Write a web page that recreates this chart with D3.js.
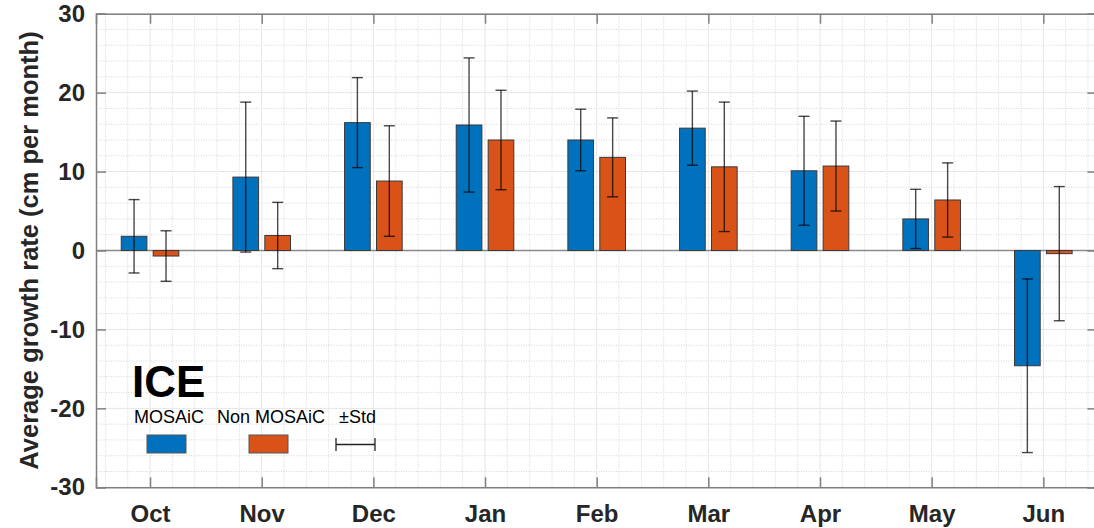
<!DOCTYPE html>
<html>
<head>
<meta charset="utf-8">
<script src="https://cdn.jsdelivr.net/npm/d3@7"></script>
<style>
  html, body { margin: 0; padding: 0; background: #fff; }
  svg { display: block; font-family: "Liberation Sans", Arial, sans-serif; }
</style>
</head>
<body>
<svg id="chart" width="1094" height="528"></svg>
<script>
// Monthly average ice growth rate, MOSAiC vs non-MOSAiC, with ±1 std
const months = ["Oct", "Nov", "Dec", "Jan", "Feb", "Mar", "Apr", "May", "Jun"];
const mosaicMean = [1.8, 9.3, 16.2, 15.9, 14.0, 15.5, 10.1, 4.0, -14.6];
const mosaicStd  = [4.65, 9.5, 5.7, 8.5, 3.9, 4.7, 6.9, 3.75, 11.0];
const nonMosaicMean = [-0.7, 1.9, 8.8, 14.0, 11.8, 10.6, 10.7, 6.4, -0.4];
const nonMosaicStd  = [3.2, 4.2, 7.0, 6.3, 5.0, 8.2, 5.7, 4.7, 8.5];
const yTicks = [-30, -20, -10, 0, 10, 20, 30];
const seriesNames = ["MOSAiC", "Non MOSAiC"];
const seriesColors = ["#0072BD", "#D95319"];

const svg = d3.select("#chart");
const plotLeft = 96, plotTop = 13.7, plotBottom = 487.3;
const unit = 111.66;

const x = d3.scaleLinear().domain([0.516, 9.484]).range([plotLeft, plotLeft + 8.968 * unit]);
const y = d3.scaleLinear().domain([-30, 30]).range([plotBottom, plotTop]);
const plotRight = x.range()[1];

const axisColor = "#808080";
const textColor = "#262626";

// grid: minor dotted, major light solid
const g = svg.append("g");
const minorX = d3.range(0.6, 9.5, 0.2).filter(v => Math.abs(v - Math.round(v)) > 1e-6);
const minorY = d3.range(-28, 30, 2).filter(v => v % 10 !== 0);
g.selectAll(".mx").data(minorX).join("line")
  .attr("x1", d => x(d)).attr("x2", d => x(d)).attr("y1", plotTop).attr("y2", plotBottom)
  .attr("stroke", "#d6d6d6").attr("stroke-width", 1).attr("stroke-dasharray", "1,1.5");
g.selectAll(".my").data(minorY).join("line")
  .attr("x1", plotLeft).attr("x2", plotRight).attr("y1", d => y(d)).attr("y2", d => y(d))
  .attr("stroke", "#d6d6d6").attr("stroke-width", 1).attr("stroke-dasharray", "1,1.5");
g.selectAll(".Mx").data(d3.range(1, 10)).join("line")
  .attr("x1", d => x(d)).attr("x2", d => x(d)).attr("y1", plotTop).attr("y2", plotBottom)
  .attr("stroke", "#e6e6e6").attr("stroke-width", 1);
g.selectAll(".My").data(yTicks).join("line")
  .attr("x1", plotLeft).attr("x2", plotRight).attr("y1", d => y(d)).attr("y2", d => y(d))
  .attr("stroke", "#e6e6e6").attr("stroke-width", 1);

// bars
const barW = 0.23 * unit;
const offsets = [-0.143, 0.143];
const seriesMeans = [mosaicMean, nonMosaicMean];
const seriesStds = [mosaicStd, nonMosaicStd];

// baseline
svg.append("line")
  .attr("x1", plotLeft).attr("x2", plotRight).attr("y1", y(0)).attr("y2", y(0))
  .attr("stroke", "#8a8a8a").attr("stroke-width", 1.5);

seriesMeans.forEach((vals, s) => {
  svg.append("g").selectAll("rect").data(vals).join("rect")
    .attr("x", (d, i) => x(i + 1 + offsets[s]) - barW / 2)
    .attr("width", barW)
    .attr("y", d => y(Math.max(0, d)))
    .attr("height", d => Math.abs(y(d) - y(0)))
    .attr("fill", seriesColors[s])
    .attr("stroke", "#3a3a3a").attr("stroke-width", 1);
});

// error bars
const capW = 11;
seriesMeans.forEach((vals, s) => {
  const eg = svg.append("g").attr("stroke", "rgba(0,0,0,0.72)").attr("stroke-width", 1.4).attr("fill", "none");
  vals.forEach((m, i) => {
    const cx = x(i + 1 + offsets[s]);
    const sd = seriesStds[s][i];
    const y1 = y(m + sd), y2 = y(m - sd);
    eg.append("line").attr("x1", cx).attr("x2", cx).attr("y1", y1).attr("y2", y2);
    eg.append("line").attr("x1", cx - capW / 2).attr("x2", cx + capW / 2).attr("y1", y1).attr("y2", y1);
    eg.append("line").attr("x1", cx - capW / 2).attr("x2", cx + capW / 2).attr("y1", y2).attr("y2", y2);
  });
});

// axes box with inward ticks
const tickLen = 10;
const xAxisB = d3.axisBottom(x).tickValues(d3.range(1, 10)).tickSize(-tickLen).tickFormat((d) => months[d - 1]).tickPadding(17.5);
const xAxisT = d3.axisTop(x).tickValues(d3.range(1, 10)).tickSize(-tickLen).tickFormat("");
const yAxisL = d3.axisLeft(y).tickValues(yTicks).tickSize(-tickLen).tickFormat(d => String(d)).tickPadding(11);
const yAxisR = d3.axisRight(y).tickValues(yTicks).tickSize(-tickLen).tickFormat("");

function style(sel) {
  sel.select(".domain").attr("stroke", axisColor).attr("stroke-width", 1.5);
  sel.selectAll(".tick line").attr("stroke", axisColor).attr("stroke-width", 1.5);
  sel.selectAll(".tick text").attr("fill", textColor).attr("font-size", 24).attr("font-weight", "bold")
    .attr("font-family", "'Liberation Sans', Arial, sans-serif");
}
svg.append("g").attr("transform", `translate(0,${plotBottom})`).call(xAxisB).call(style);
svg.append("g").attr("transform", `translate(0,${plotTop})`).call(xAxisT).call(style);
svg.append("g").attr("transform", `translate(${plotLeft},0)`).call(yAxisL).call(style);
svg.append("g").attr("transform", `translate(${plotRight},0)`).call(yAxisR).call(style);

// y label
svg.append("text")
  .attr("transform", `translate(38,${(plotTop + plotBottom) / 2}) rotate(-90)`)
  .attr("text-anchor", "middle")
  .attr("font-size", 25.5).attr("font-weight", "bold").attr("fill", textColor)
  .text("Average growth rate (cm per month)");

// legend
const lg = svg.append("g");
lg.append("text").attr("x", 132).attr("y", 397).attr("font-size", 44).attr("font-weight", "bold")
  .attr("fill", "#000").text("ICE");
const legX = [134, 217];
seriesNames.forEach((n, s) => {
  lg.append("text").attr("x", legX[s]).attr("y", 422.5).attr("font-size", 18).attr("fill", "#000").text(n);
});
lg.append("text").attr("x", 339).attr("y", 422.5).attr("font-size", 18).attr("fill", "#000").text("±Std");
const boxX = [147, 249];
seriesColors.forEach((c, s) => {
  lg.append("rect").attr("x", boxX[s]).attr("y", 435).attr("width", 39).attr("height", 18)
    .attr("fill", c).attr("stroke", "#555").attr("stroke-width", 1);
});
const eb = lg.append("g").attr("stroke", "#222").attr("stroke-width", 1.3);
eb.append("line").attr("x1", 336).attr("x2", 375).attr("y1", 444.5).attr("y2", 444.5);
eb.append("line").attr("x1", 336).attr("x2", 336).attr("y1", 438).attr("y2", 451);
eb.append("line").attr("x1", 375).attr("x2", 375).attr("y1", 438).attr("y2", 451);
</script>
</body>
</html>
